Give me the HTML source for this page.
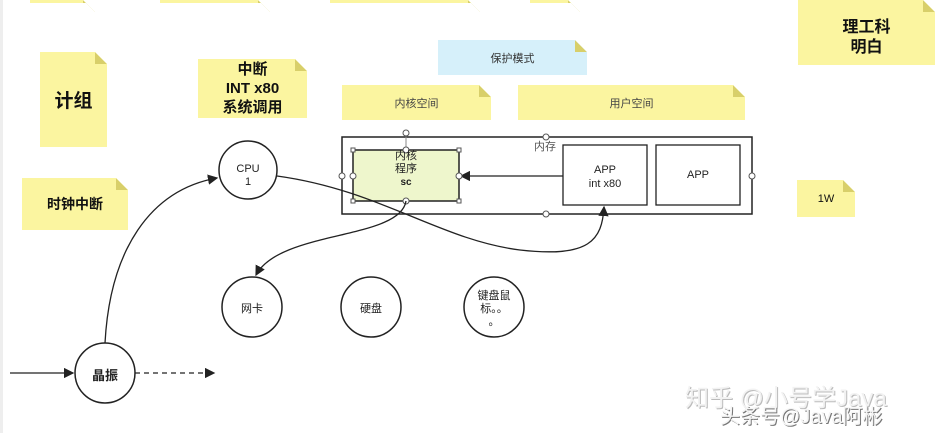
<!DOCTYPE html>
<html><head><meta charset="utf-8"><style>
body{margin:0;width:942px;height:433px;background:#fff;position:relative;overflow:hidden;font-family:"Liberation Sans","Noto Sans CJK SC",sans-serif}
.n{position:absolute;background:#fbf5a0;display:flex;align-items:center;justify-content:center;text-align:center;color:#111;clip-path:polygon(0 0,calc(100% - 12px) 0,100% 12px,100% 100%,0 100%)}
.n::after{content:"";position:absolute;right:0;top:0;width:12px;height:12px;background:#d8cf6a;clip-path:polygon(0 0,0 100%,100% 100%)}
.b{font-weight:bold}
.t{position:absolute;font-size:11px;color:#222;text-align:center}
</style></head><body>
<div style="position:absolute;left:0;top:0;width:3px;height:433px;background:#eee"></div>
<div class="n" style="left:30px;top:0;width:65px;height:3px"></div>
<div class="n" style="left:160px;top:0;width:110px;height:3px"></div>
<div class="n" style="left:330px;top:0;width:150px;height:3px"></div>
<div class="n" style="left:530px;top:0;width:50px;height:3px"></div>
<div class="n b" style="left:40px;top:52px;width:67px;height:95px;font-size:19px">计组</div>
<div class="n b" style="left:198px;top:59px;width:109px;height:59px;font-size:15px;line-height:19px">中断<br>INT x80<br>系统调用</div>
<div class="n" style="left:438px;top:40px;width:149px;height:35px;font-size:11px;background:#d6f0fa;color:#333">保护模式</div>
<div class="n" style="left:342px;top:85px;width:149px;height:35px;font-size:11px;color:#444">内核空间</div>
<div class="n" style="left:518px;top:85px;width:227px;height:35px;font-size:11px;color:#444">用户空间</div>
<div class="n b" style="left:798px;top:0;width:137px;height:65px;font-size:16px;line-height:20px;padding-top:10px;box-sizing:border-box">理工科<br>明白</div>
<div class="n b" style="left:22px;top:178px;width:106px;height:52px;font-size:14px">时钟中断</div>
<div class="n" style="left:797px;top:180px;width:58px;height:37px;font-size:11px">1W</div>
<svg width="942" height="433" style="position:absolute;left:0;top:0">
<defs><marker id="a" markerWidth="8" markerHeight="8" refX="7" refY="4" orient="auto"><path d="M0,0L8,4L0,8z" fill="#222"/></marker></defs>
<rect x="342" y="137" width="410" height="77" fill="none" stroke="#222" stroke-width="1.5"/>
<rect x="353" y="150" width="106" height="51" fill="#eef6cc" stroke="#222" stroke-width="1.5"/>
<rect x="563" y="145" width="84" height="60" fill="#fff" stroke="#222" stroke-width="1.3"/>
<rect x="656" y="145" width="84" height="60" fill="#fff" stroke="#222" stroke-width="1.3"/>
<line x1="563" y1="176" x2="461" y2="176" stroke="#222" stroke-width="1.3" marker-end="url(#a)"/>
<line x1="406" y1="136" x2="406" y2="150" stroke="#888"/>
<g fill="#fff" stroke="#555"><circle cx="406" cy="133" r="3"/><circle cx="546" cy="137" r="3"/><circle cx="546" cy="214" r="3"/><circle cx="342" cy="176" r="3"/><circle cx="752" cy="176" r="3"/><circle cx="406" cy="150" r="3"/><circle cx="406" cy="201" r="3"/><circle cx="353" cy="176" r="3"/><circle cx="459" cy="176" r="3"/>
<rect x="351" y="148" width="4" height="4"/><rect x="457" y="148" width="4" height="4"/><rect x="351" y="199" width="4" height="4"/><rect x="457" y="199" width="4" height="4"/></g>
<g fill="#fff" stroke="#222" stroke-width="1.5"><circle cx="248" cy="170" r="29"/><circle cx="252" cy="307" r="30"/><circle cx="371" cy="307" r="30"/><circle cx="494" cy="307" r="30"/><circle cx="105" cy="373" r="30"/></g>
<g fill="none" stroke="#222" stroke-width="1.3">
<line x1="10" y1="373" x2="73" y2="373" marker-end="url(#a)"/>
<line x1="135" y1="373" x2="214" y2="373" stroke-dasharray="5,4" marker-end="url(#a)"/>
<path d="M105,343 C110,250 150,190 217,178" marker-end="url(#a)"/>
<path d="M277,176 C380,190 440,240 520,250 C590,258 602,240 604,207" marker-end="url(#a)"/>
<path d="M406,201 C400,240 280,230 256,275" marker-end="url(#a)"/>
</g>
</svg>
<div class="t" style="left:353px;top:150px;width:106px;line-height:13px;font-size:11px">内核<br>程序<br><b style="font-size:10px">sc</b></div>
<div class="t" style="left:530px;top:138px;width:30px;color:#555">内存</div>
<div class="t" style="left:563px;top:163px;width:84px;line-height:14px">APP<br>int x80</div>
<div class="t" style="left:656px;top:169px;width:84px">APP</div>
<div class="t" style="left:219px;top:163px;width:58px;line-height:13px">CPU<br>1</div>
<div class="t" style="left:222px;top:300px;width:60px">网卡</div>
<div class="t" style="left:341px;top:300px;width:60px">硬盘</div>
<div class="t" style="left:464px;top:290px;width:60px;line-height:13px">键盘鼠<br>标。。<br>。</div>
<div class="t b" style="left:75px;top:365px;width:60px;font-size:13px">晶振</div>
<div class="t" style="left:685px;top:378px;font-size:24px;color:#f2f2f2;text-shadow:1px 1px 0 #bbb">知乎 @小号学Java</div>
<div class="t" style="left:720px;top:400px;font-size:20px;color:#f5f5f5;text-shadow:1px 1px 0 #777">头条号@Java阿彬</div>
</body></html>
